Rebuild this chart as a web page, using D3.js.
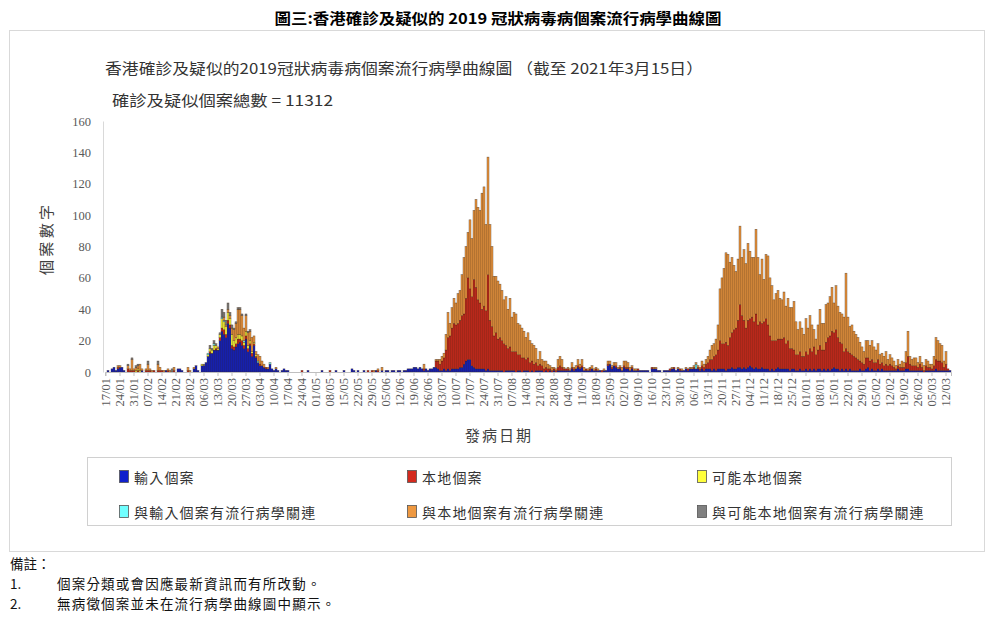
<!DOCTYPE html>
<html><head><meta charset="utf-8">
<script src="https://cdn.jsdelivr.net/npm/d3@7"></script>
<style>
body{margin:0;background:#fff;}
svg{display:block;}
</style></head><body>
<svg id="chart" width="1000" height="622"></svg>
<script>
// ---- categories: one bar per onset day, 17/01/2020 .. 14/03/2021
const startDate = new Date(2020, 0, 17);
const endDate = new Date(2021, 2, 15);
const tickLabels = ["17/01","24/01","31/01","07/02","14/02","21/02","28/02","06/03","13/03","20/03","27/03","03/04","10/04","17/04","24/04","01/05","08/05","15/05","22/05","29/05","05/06","12/06","19/06","26/06","03/07","10/07","17/07","24/07","31/07","07/08","14/08","21/08","28/08","04/09","11/09","18/09","25/09","02/10","09/10","16/10","23/10","30/10","06/11","13/11","20/11","27/11","04/12","11/12","18/12","25/12","01/01","08/01","15/01","22/01","29/01","05/02","12/02","19/02","26/02","05/03","12/03"];
const yTicks = [0,20,40,60,80,100,120,140,160];
const seriesNames = ["輸入個案","本地個案","可能本地個案","與輸入個案有流行病學關連","與本地個案有流行病學關連","與可能本地個案有流行病學關連"];

// ---- daily case counts (one line per week starting at each tick label)
const imported = [
0,1,0,2,3,1,2, 3,3,1,0,0,0,0, 0,0,0,0,1,0,0, 0,0,0,0,0,0,0, 0,0,1,0,0,0,0,
0,2,2,1,0,0,0, 0,0,2,4,1,0,4, 4,6,10,12,12,14,14, 14,20,26,24,22,31,28, 15,14,16,18,19,17,15,
21,13,17,10,17,9,6, 4,4,3,2,2,5,2, 1,2,1,0,1,2,1, 1,0,0,0,0,0,0, 0,0,0,1,0,0,0,
0,0,0,1,0,0,0, 0,0,0,1,0,0,0, 1,0,0,0,2,1,0, 1,0,0,1,0,0,0, 0,0,1,0,0,1,0,
1,1,0,1,1,0,1, 1,0,1,1,2,2,2, 3,3,2,3,2,1,2, 1,2,2,3,3,2,1, 1,2,1,2,1,2,2,
2,2,3,3,5,7,8, 8,4,3,2,2,2,2, 2,1,2,1,1,1,1, 1,1,1,0,1,1,1, 1,1,0,1,1,0,1,
1,1,0,1,0,1,1, 1,1,0,1,0,1,0, 1,0,1,1,1,1,1, 1,1,2,1,2,3,2, 3,1,1,1,1,2,1,
1,1,1,0,1,1,4, 5,2,4,3,2,2,1, 3,2,2,1,2,1,1, 1,1,1,1,1,1,0, 2,2,2,1,1,0,1,
1,1,1,2,2,1,2, 1,1,1,2,1,2,2, 2,2,2,1,2,1,2, 2,2,1,2,1,2,2, 2,2,1,2,2,3,2,
2,3,3,2,3,2,3, 4,3,2,3,2,2,3, 2,2,2,1,2,1,2, 3,2,2,2,2,2,1, 2,2,1,1,2,1,1,
2,1,2,1,2,1,2, 2,1,2,1,2,1,2, 3,2,2,1,2,1,2, 1,2,1,1,1,1,2, 1,1,2,3,1,2,1,
1,2,1,2,1,1,1, 1,1,1,1,2,1,1, 1,2,2,1,1,1,1, 1,1,1,0,1,1,1, 1,1,2,1,1,1,1,
1,1,1];
const local = [
0,0,0,0,0,0,1, 0,0,0,0,2,1,1, 1,0,1,0,0,0,1, 1,1,0,1,0,1,1, 1,0,0,1,0,0,1,
0,0,0,0,0,0,1, 0,0,0,0,0,0,0, 0,0,0,1,0,0,1, 0,2,2,3,2,2,2, 2,2,2,3,2,3,2,
2,2,1,2,1,1,0, 1,0,0,1,0,0,0, 0,0,0,0,0,0,0, 0,0,0,0,0,0,0, 1,0,0,0,0,0,0,
0,0,0,0,0,0,0, 1,0,0,0,0,0,0, 0,0,0,0,0,0,0, 0,0,0,0,0,1,0, 1,0,0,1,0,0,0,
0,0,0,0,0,0,0, 0,0,0,0,0,0,0, 0,0,0,0,0,1,0, 0,0,0,0,4,5,4, 6,7,13,20,22,26,29,
28,29,30,33,32,40,52, 45,44,56,52,44,42,38, 40,38,60,32,28,22,24, 20,21,19,18,16,14,15, 12,12,13,10,10,9,8,
7,8,6,6,5,5,3, 4,3,2,2,2,1,1, 1,1,2,3,2,1,1, 1,0,1,1,0,1,1, 1,0,1,0,1,0,0,
1,0,0,1,0,0,1, 0,1,0,1,0,1,0, 1,1,1,0,1,0,0, 1,0,0,0,0,0,0, 1,0,0,0,0,0,0,
0,0,1,0,1,0,0, 1,0,0,0,1,0,0, 1,0,1,1,2,2,3, 4,6,7,8,10,12,18, 16,16,18,15,20,22,25,
26,30,40,34,30,26,30, 30,32,30,34,28,30,28, 30,32,28,22,18,19,18, 18,19,19,20,16,18,14, 13,12,10,10,11,9,9,
11,10,13,12,14,10,12, 15,13,12,18,20,22,24, 22,25,20,18,16,12,13, 12,10,10,9,8,7,5, 5,4,7,6,6,6,5,
5,6,4,4,3,4,3, 4,3,2,1,2,2,2, 2,4,8,4,3,3,3, 2,4,2,1,3,2,2, 1,3,6,6,6,5,2,
4,1,0];
const possibleLocal = [
0,0,0,0,0,0,0, 0,0,0,0,0,0,0, 0,1,1,1,0,0,0, 0,0,0,0,0,0,0, 0,0,0,0,0,0,0,
0,0,0,0,0,0,0, 0,0,0,0,0,0,1, 0,0,1,2,2,3,2, 1,2,6,5,5,5,4, 7,4,4,3,3,3,2,
3,2,2,1,1,1,0, 0,0,0,0,0,0,0, 0,0,0,0,0,0,0, 0,0,0,0,0,0,0, 0,0,0,0,0,0,0,
0,0,0,0,0,0,0, 0,0,0,0,0,0,0, 0,0,0,0,0,0,0, 0,0,0,0,0,0,0, 0,0,0,0,0,0,0,
0,0,0,0,0,0,0, 0,0,0,0,0,0,0, 0,0,0,0,0,0,0, 0,0,0,0,0,0,0, 0,0,0,0,0,0,0,
0,0,0,0,0,0,0, 0,0,0,0,0,0,0, 0,0,0,0,0,0,0, 0,0,0,0,0,0,0, 0,0,0,0,0,0,0,
0,0,0,0,0,0,0, 0,0,0,0,0,0,0, 0,0,0,0,0,0,0, 0,0,0,0,0,0,0, 0,0,0,0,0,0,0,
0,0,0,0,0,0,0, 0,0,0,0,0,0,0, 0,0,0,0,0,0,0, 0,0,0,0,0,0,0, 0,0,0,0,0,0,0,
0,0,0,0,0,0,0, 0,0,0,0,0,0,0, 0,0,0,0,0,0,0, 0,0,0,0,0,0,0, 0,0,0,0,0,0,0,
0,0,0,0,0,0,0, 0,0,0,0,0,0,0, 0,0,0,0,0,0,0, 0,0,0,0,0,0,0, 0,0,0,0,0,0,0,
0,0,0,0,0,0,0, 0,0,0,0,0,0,0, 0,0,0,0,0,0,0, 0,0,0,0,0,0,0, 0,0,0,0,0,0,0,
0,0,0,0,0,0,0, 0,0,0,0,0,0,0, 0,0,0,0,0,0,0, 0,0,0,0,0,0,0, 0,0,0,0,0,0,0,
0,0,0];
const linkedImported = [
0,0,0,0,0,0,0, 0,0,0,0,0,0,0, 0,0,0,0,0,0,0, 0,0,0,0,0,0,0, 0,0,0,0,0,0,0,
0,0,0,0,0,0,0, 0,0,0,0,0,0,0, 0,0,1,0,0,1,0, 0,0,1,1,0,0,0, 0,0,0,0,0,0,1,
0,0,0,0,0,0,1, 0,0,0,0,0,1,0, 0,0,0,0,0,0,0, 0,0,0,0,0,0,0, 0,0,0,0,0,0,0,
0,0,0,0,0,0,0, 0,0,0,0,0,0,0, 0,0,0,0,0,0,0, 0,0,0,0,0,0,0, 0,0,0,0,0,0,0,
0,0,0,0,0,0,0, 0,0,0,0,0,0,0, 0,0,0,0,0,0,0, 0,0,0,0,0,0,0, 0,0,0,0,0,0,0,
0,0,0,0,0,0,0, 0,0,0,0,0,0,0, 0,0,0,0,0,0,0, 0,0,0,0,0,0,0, 0,0,0,0,0,0,0,
0,0,0,0,0,0,0, 0,0,0,0,0,0,0, 0,0,0,0,0,0,0, 0,0,0,0,0,0,0, 0,0,0,0,0,0,0,
0,0,0,0,0,0,0, 0,0,0,0,0,0,0, 0,0,0,0,0,0,0, 0,0,0,0,0,0,0, 0,0,0,0,0,0,0,
0,0,0,0,0,0,0, 0,0,0,0,0,0,0, 0,3,0,0,0,0,0, 0,0,0,0,0,0,0, 0,0,0,0,0,0,0,
0,0,0,0,0,0,0, 0,0,0,0,0,0,0, 0,0,0,0,0,0,0, 0,0,0,0,0,0,0, 0,0,0,0,0,0,0,
0,0,0,0,0,0,0, 0,0,0,0,0,0,0, 0,0,0,0,0,0,0, 0,0,0,0,0,0,0, 0,0,0,0,0,0,0,
0,0,0,0,0,0,0, 0,0,0,0,0,0,0, 0,0,0,0,0,0,0, 0,0,0,0,0,0,0, 0,0,0,0,0,0,0,
0,0,0];
const linkedLocal = [
0,0,0,0,0,0,1, 1,0,0,0,2,1,7, 1,2,2,4,1,0,1, 4,1,1,0,0,4,2, 0,1,0,1,1,0,2,
0,0,0,0,0,0,2, 1,0,1,0,0,0,0, 0,0,0,0,0,0,0, 1,0,0,2,1,2,2, 4,7,9,16,16,13,8,
10,8,6,9,4,2,4, 5,3,2,0,1,0,0, 0,1,0,0,0,0,0, 0,0,0,0,0,0,0, 0,0,0,0,0,0,0,
0,0,0,0,0,0,0, 0,0,0,0,0,0,0, 0,0,0,0,0,0,0, 0,0,0,0,0,0,0, 0,1,0,1,0,2,0,
0,0,0,0,0,0,0, 0,0,0,0,0,0,0, 0,0,0,0,0,3,0, 0,0,0,0,1,1,3, 3,3,10,16,8,13,16,
14,19,19,26,36,33,29, 44,37,44,56,59,59,74, 76,55,75,61,51,38,36, 37,34,32,28,31,25,31, 22,25,24,20,19,19,17,
14,16,14,11,12,9,4, 8,4,5,4,3,2,2, 1,1,5,6,5,1,0, 1,1,3,1,2,4,2, 4,2,0,1,1,2,1,
1,1,0,0,1,0,2, 2,1,2,2,1,1,2, 3,4,3,2,1,1,1, 0,0,0,0,0,0,0, 0,1,1,0,0,0,0,
0,0,0,1,0,0,1, 0,1,0,1,0,1,1, 1,1,1,1,3,2,3, 4,6,9,8,10,16,33, 42,48,57,58,48,48,41,
36,39,50,37,45,41,49, 43,38,41,54,43,30,41, 27,41,44,37,35,26,30, 31,26,25,29,24,27,26, 26,31,21,16,19,18,14,
21,17,21,17,11,10,16, 23,17,17,24,22,25,28, 19,28,20,19,19,22,48, 22,17,19,16,15,14,12, 10,8,11,11,10,12,10,
8,10,6,6,6,8,4, 6,5,4,2,4,2,4, 3,7,16,5,4,5,5, 3,5,3,3,4,4,2, 3,6,14,13,11,11,4,
8,0,0];
const linkedPossible = [
0,0,0,0,0,0,0, 0,0,0,0,1,0,1, 0,1,1,0,0,0,0, 2,0,0,0,0,2,0, 0,0,0,0,0,2,0,
0,0,0,0,0,0,0, 0,0,0,0,0,0,0, 1,0,0,2,1,2,1, 0,1,5,3,3,4,2, 2,1,1,1,1,1,0,
1,1,1,0,0,0,0, 0,0,0,0,0,0,0, 0,0,0,0,0,0,0, 0,0,0,0,0,0,0, 0,0,0,0,0,0,0,
0,0,0,0,0,0,0, 0,0,0,0,0,0,0, 0,0,0,0,0,0,0, 0,0,0,0,0,0,0, 0,0,0,0,0,0,0,
0,0,0,0,0,0,0, 0,0,0,0,0,0,0, 0,0,0,0,0,0,0, 0,0,0,0,0,0,0, 0,0,0,0,0,0,0,
0,0,0,0,0,0,0, 0,0,0,0,0,0,0, 0,0,0,0,0,0,0, 0,0,0,0,0,0,0, 0,0,0,0,0,0,0,
0,0,0,0,0,0,0, 0,0,0,0,0,0,0, 0,0,0,0,0,0,0, 0,0,0,0,0,0,0, 0,0,0,0,0,0,0,
0,0,0,0,0,0,0, 0,0,0,0,0,0,0, 0,0,0,0,0,0,0, 0,0,0,0,0,0,0, 0,0,0,0,0,0,0,
0,0,0,0,0,0,0, 0,0,0,0,0,0,0, 0,0,0,0,0,0,0, 0,0,0,0,0,0,0, 0,0,0,0,0,0,0,
0,0,0,0,0,0,0, 0,0,0,0,0,0,0, 0,0,0,0,0,0,0, 0,0,0,0,0,0,0, 0,0,0,0,0,0,0,
0,0,0,0,0,0,0, 0,0,0,0,0,0,0, 0,0,0,0,0,0,0, 0,0,0,0,0,0,0, 0,0,0,0,0,0,0,
0,0,0,0,0,0,0, 0,0,0,0,0,0,0, 0,0,0,0,0,0,0, 0,0,0,0,0,0,0, 0,0,0,0,0,0,0,
0,0,0];

const colors = ["#1020cc","#d42a1e","#ffff3c","#70ffff","#ee9840","#808080"];
const keys = ["imported","local","possibleLocal","linkedImported","linkedLocal","linkedPossible"];
const seriesArrays = [imported, local, possibleLocal, linkedImported, linkedLocal, linkedPossible];

const days = d3.timeDay.range(startDate, endDate);
const table = days.map((d, i) => {
  const row = {date: d};
  keys.forEach((k, j) => row[k] = seriesArrays[j][i] || 0);
  return row;
});

const svg = d3.select("#chart");
const font = "'Noto Sans CJK TC','Noto Sans CJK SC',sans-serif";
const serif = "'Liberation Serif','DejaVu Serif',serif";

// page title
svg.append("text").attr("x", 498).attr("y", 24).attr("text-anchor", "middle")
  .attr("font-family", font).attr("font-weight", "bold").attr("font-size", 15)
  .attr("textLength", 447).attr("lengthAdjust", "spacingAndGlyphs").attr("fill", "#000")
  .text("圖三:香港確診及疑似的 2019 冠狀病毒病個案流行病學曲線圖");

// chart frame
svg.append("rect").attr("x", 9.5).attr("y", 30.5).attr("width", 975).attr("height", 521)
  .attr("fill", "none").attr("stroke", "#d9d9d9");

svg.append("text").attr("x", 105).attr("y", 74)
  .attr("font-family", font).attr("font-size", 15).attr("fill", "#333")
  .attr("textLength", 598).attr("lengthAdjust", "spacingAndGlyphs")
  .text("香港確診及疑似的2019冠狀病毒病個案流行病學曲線圖 （截至 2021年3月15日）");
svg.append("text").attr("x", 112).attr("y", 106)
  .attr("font-family", font).attr("font-size", 15).attr("fill", "#333")
  .attr("textLength", 221).attr("lengthAdjust", "spacingAndGlyphs")
  .text("確診及疑似個案總數 = 11312");

// scales
const x = d3.scaleBand().domain(days).range([105, 951]).padding(0);
const y = d3.scaleLinear().domain([0, 160]).range([372, 121]);

// y axis
const yAxis = svg.append("g").attr("transform", "translate(103,0)")
  .call(d3.axisLeft(y).tickValues(yTicks).tickSize(0).tickPadding(12));
yAxis.select(".domain").attr("stroke", "#d9d9d9");
yAxis.selectAll("text").attr("font-family", serif).attr("font-size", 12.5).attr("fill", "#595959");

// bars
const stack = d3.stack().keys(keys);
const stacked = stack(table);
svg.append("g").selectAll("g").data(stacked).join("g")
  .attr("fill", (d, i) => colors[i])
  .selectAll("rect").data(d => d.filter(s => s[1] > s[0])).join("rect")
  .attr("x", d => x(d.data.date))
  .attr("width", x.bandwidth())
  .attr("y", d => y(d[1]))
  .attr("height", d => y(d[0]) - y(d[1]))
  .attr("stroke", "#3a2414").attr("stroke-width", 0.45).attr("stroke-opacity", 0.75);

// x axis
const tickDays = days.filter((d, i) => i % 7 === 0);
const xAxis = svg.append("g").attr("transform", "translate(0,372)")
  .call(d3.axisBottom(x).tickValues(tickDays).tickSize(4)
    .tickFormat((d, i) => tickLabels[i]));
xAxis.select(".domain").attr("stroke", "#bfbfbf");
xAxis.selectAll(".tick line").attr("stroke", "#bfbfbf");
xAxis.selectAll("text")
  .attr("font-family", serif).attr("font-size", 12.5).attr("fill", "#595959")
  .attr("text-anchor", "end").attr("dy", "0.35em")
  .attr("transform", "rotate(-90)").attr("x", -6).attr("y", 0);

// axis titles
svg.append("text").attr("transform", "translate(52,240) rotate(-90)").attr("text-anchor", "middle")
  .attr("font-family", font).attr("font-size", 15).attr("fill", "#404040")
  .attr("textLength", 70).attr("lengthAdjust", "spacing")
  .text("個案數字");
svg.append("text").attr("x", 498).attr("y", 441).attr("text-anchor", "middle")
  .attr("font-family", font).attr("font-size", 15).attr("fill", "#404040")
  .attr("textLength", 66).attr("lengthAdjust", "spacing")
  .text("發病日期");

// legend
svg.append("rect").attr("x", 87.5).attr("y", 457.5).attr("width", 864).attr("height", 68)
  .attr("fill", "none").attr("stroke", "#d0d0d0");
const legendX = [119, 407, 697];
const legendY = [483, 518];
const legend = svg.append("g").selectAll("g").data(seriesNames).join("g")
  .attr("transform", (d, i) => `translate(${legendX[i % 3]},${legendY[Math.floor(i / 3)]})`);
legend.append("rect").attr("x", 0.5).attr("y", -12.5).attr("width", 9).attr("height", 12)
  .attr("fill", (d, i) => colors[i]).attr("stroke", "#555").attr("stroke-width", 0.8);
legend.append("text").attr("x", 15).attr("y", 0)
  .attr("font-family", font).attr("font-size", 14).attr("fill", "#333")
  .attr("letter-spacing", 1.2)
  .text(d => d);

// notes
const notes = svg.append("g").attr("font-family", font).attr("font-size", 13.5).attr("fill", "#111");
notes.append("text").attr("x", 10).attr("y", 569).text("備註：");
notes.append("text").attr("x", 10).attr("y", 589).text("1.");
notes.append("text").attr("x", 57).attr("y", 589).attr("letter-spacing", 1.2).text("個案分類或會因應最新資訊而有所改動。");
notes.append("text").attr("x", 10).attr("y", 609).text("2.");
notes.append("text").attr("x", 57).attr("y", 609).attr("letter-spacing", 1.2).text("無病徵個案並未在流行病學曲線圖中顯示。");
</script>
</body></html>
